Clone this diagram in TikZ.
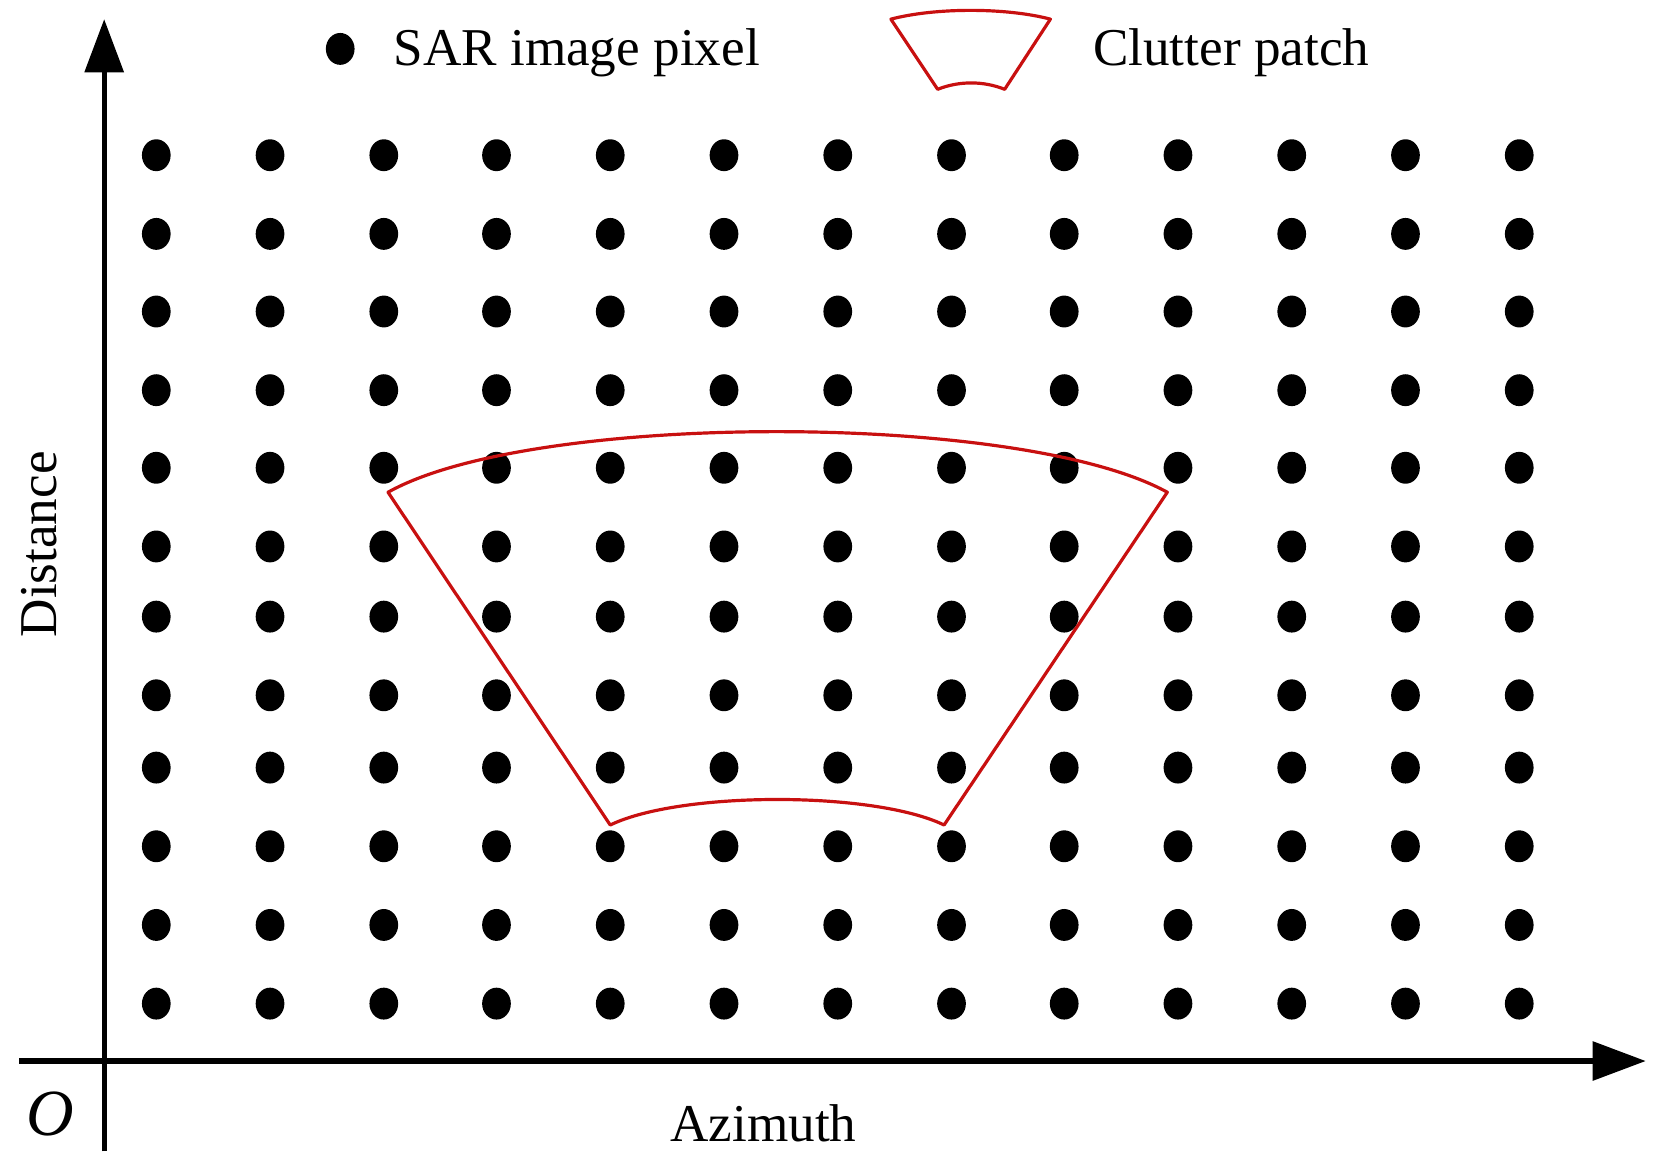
\documentclass[tikz,border=0pt]{standalone}
\usepackage{fontspec}
\setmainfont{Liberation Serif}
\usetikzlibrary{arrows.meta}
\begin{document}
\begin{tikzpicture}[x=1pt,y=-1pt,
  axis/.style={line width=5pt,-{Triangle[length=50pt,width=36pt]}},
  patch/.style={draw={rgb,255:red,200;green,16;blue,16},line width=3pt,line join=round},
  lbl/.style={font=\fontsize{50}{60}\selectfont,inner sep=0pt}]
\useasboundingbox (0,0) rectangle (1568,1100);
\foreach \x [count=\i] in {147,254,361,467,574,681,788,895,1001,1108,1215,1322,1429}
  \foreach \y [count=\j] in {146,220,293,367,440,514,580,654,722,796,870,944}
    \fill (\x,\y) ellipse (13.5 and 15);
\coordinate (yb) at (98,1083); \coordinate (yt) at (98,18);
\coordinate (xl) at (18,998); \coordinate (xr) at (1548,998);
\draw[axis] (yb) -- (yt);
\draw[axis] (xl) -- (xr);
\draw[patch] (365,463) .. controls (500,387) and (960,387) .. (1098,463)
  -- (888,776) .. controls (822,744) and (640,744) .. (574,776) -- cycle;
\fill (320,46) ellipse (13.5 and 15);
\node[lbl,anchor=west] (l1) at (370,50) {SAR image pixel};
\draw[patch] (838,18) .. controls (880,7) and (946,7) .. (988,18)
  -- (945,84) .. controls (925,76) and (902,76) .. (882,84) -- cycle;
\node[lbl,anchor=west] (l2) at (1028,50) {Clutter patch};
\node[lbl,rotate=90] (d) at (37,512) {Distance};
\node[lbl] (a) at (718,1057) {Azimuth};
\node[lbl,font=\fontsize{62}{70}\selectfont\itshape] (o) at (47,1048) {O};
\end{tikzpicture}
\end{document}
